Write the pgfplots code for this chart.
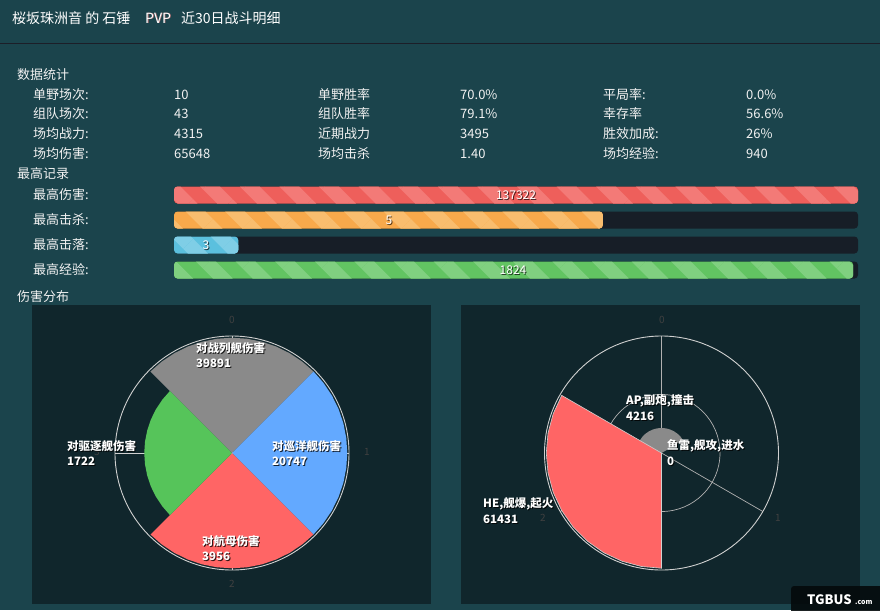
\documentclass[border=0pt]{standalone}
\usepackage{pgfplots}
\pgfplotsset{compat=1.18}
\usepgfplotslibrary{polar}
\usetikzlibrary{patterns.meta}
\usepackage{fontspec}
\setmainfont{Noto Sans CJK SC}
\definecolor{bg}{HTML}{1B444C}
\definecolor{hdrline}{HTML}{1C1E28}
\definecolor{panel}{HTML}{10262C}
\definecolor{bardark}{HTML}{171E27}
\definecolor{redbar}{HTML}{EE5F5B}
\definecolor{redstripe}{HTML}{F37A77}
\definecolor{orangebar}{HTML}{F8A94B}
\definecolor{orangestripe}{HTML}{F9BD6E}
\definecolor{bluebar}{HTML}{5BC0DE}
\definecolor{bluestripe}{HTML}{7FCEE6}
\definecolor{greenbar}{HTML}{62C462}
\definecolor{greenstripe}{HTML}{80D080}
\definecolor{piegray}{HTML}{8A8A8A}
\definecolor{pieblue}{HTML}{63A9FF}
\definecolor{piered}{HTML}{FF6565}
\definecolor{piegreen}{HTML}{56C45A}
\definecolor{circ}{HTML}{D0D0D0}
\definecolor{ticklab}{HTML}{404040}
\definecolor{txt}{HTML}{F2F2F2}
\newcommand{\mainfont}{\fontsize{13}{15}\selectfont}
\newcommand{\lblfont}{\fontsize{11.5}{13}\selectfont\bfseries}
\newcommand{\txt}[3]{\node[anchor=west, text=txt, font=\mainfont, inner sep=0pt] at (#1,-#2) {#3};}
\newcommand{\slabel}[3]{%
  \node[anchor=west, text=black, opacity=0.8, font=\lblfont, inner sep=0pt] at (#1+1,-#2-1) {#3};
  \node[anchor=west, text=white, font=\lblfont, inner sep=0pt] at (#1,-#2) {#3};}
\newcommand{\blabel}[3]{%
  \node[text=black, opacity=0.7, font=\fontsize{12}{14}\selectfont, inner sep=0pt] at (#1+1,-#2-1) {#3};
  \node[text=white, font=\fontsize{12}{14}\selectfont, inner sep=0pt] at (#1,-#2) {#3};}
\newcommand{\tlabel}[3]{\node[text=ticklab, font=\fontsize{10}{12}\selectfont, inner sep=0pt] at (#1,-#2) {#3};}
\begin{document}
\begin{tikzpicture}[x=1pt,y=1pt]
\useasboundingbox (0,0) rectangle (880,-610);
\fill[bg] (0,0) rectangle (880,-610);
\draw[hdrline, line width=1.6pt] (0,-43.5) -- (880,-43.5);
% title
\node[anchor=west, text=white, font=\fontsize{14}{16}\selectfont, inner sep=0pt] at (12,-18) {桜坂珠洲音 的 石锤};
\node[anchor=west, text=red!50, opacity=0.6, font=\fontsize{14}{16}\selectfont, inner sep=0pt] at (145.8,-18.6) {PVP};
\node[anchor=west, text=white, font=\fontsize{14}{16}\selectfont, inner sep=0pt] at (145,-18) {PVP};
\node[anchor=west, text=white, font=\fontsize{14}{16}\selectfont, inner sep=0pt] at (181,-18) {近30日战斗明细};
% sections
\txt{17}{75}{数据统计}
\txt{17}{174}{最高记录}
\txt{17}{297}{伤害分布}
% stats
\txt{33}{95}{单野场次:}  \txt{174}{95}{10}    \txt{318}{95}{单野胜率}  \txt{460}{95}{70.0\%} \txt{603}{95}{平局率:}   \txt{746}{95}{0.0\%}
\txt{33}{114}{组队场次:} \txt{174}{114}{43}   \txt{318}{114}{组队胜率} \txt{460}{114}{79.1\%} \txt{603}{114}{幸存率}   \txt{746}{114}{56.6\%}
\txt{33}{134}{场均战力:} \txt{174}{134}{4315} \txt{318}{134}{近期战力} \txt{460}{134}{3495}   \txt{603}{134}{胜效加成:} \txt{746}{134}{26\%}
\txt{33}{154}{场均伤害:} \txt{174}{154}{65648} \txt{318}{154}{场均击杀} \txt{460}{154}{1.40}  \txt{603}{154}{场均经验:} \txt{746}{154}{940}
% record labels
\txt{33}{195}{最高伤害:}
\txt{33}{220}{最高击杀:}
\txt{33}{245}{最高击落:}
\txt{33}{270}{最高经验:}
% record bars (fill fraction of the track)
\begin{axis}[at={(174pt,-182.5pt)}, anchor=north west, scale only axis,
  width=684pt, height=100pt, xmin=0, xmax=1, ymin=-0.5, ymax=3.5,
  y dir=reverse, hide axis, xbar, bar width=17pt, bar shift=0pt, clip=false]
\addplot[fill=bardark, draw=none, rounded corners=3.5pt] coordinates {(1,0) (1,1) (1,2) (1,3)};
\addplot[fill=redbar, draw=none, rounded corners=3.5pt,
  postaction={pattern={Lines[angle=-45,distance=28pt,line width=14pt]}, pattern color=redstripe}] coordinates {(1.0,0)};
\addplot[fill=orangebar, draw=none, rounded corners=3.5pt,
  postaction={pattern={Lines[angle=-45,distance=28pt,line width=14pt]}, pattern color=orangestripe}] coordinates {(0.627,1)};
\addplot[fill=bluebar, draw=none, rounded corners=3.5pt,
  postaction={pattern={Lines[angle=-45,distance=28pt,line width=14pt]}, pattern color=bluestripe}] coordinates {(0.094,2)};
\addplot[fill=greenbar, draw=none, rounded corners=3.5pt,
  postaction={pattern={Lines[angle=-45,distance=28pt,line width=14pt]}, pattern color=greenstripe}] coordinates {(0.993,3)};
\end{axis}
\blabel{516}{195}{137322}
\blabel{389}{220}{5}
\blabel{206}{245}{3}
\blabel{513}{270}{1824}
% panels
\fill[panel] (32,-305) rectangle (431,-604);
\fill[panel] (461,-305) rectangle (860,-604);
% left rose chart
\begin{polaraxis}[at={(232pt,-453pt)}, anchor=center, scale only axis,
  width=234pt, height=234pt, ymin=0, ymax=2296,
  xtick={0,90,180,270}, xticklabels={}, ytick=\empty, yticklabels={},
  scaled y ticks=false,
  xmajorgrids, grid style={draw=circ, line width=0.7pt},
  x axis line style={draw=circ, line width=0.9pt}, y axis line style={draw=none},
  major tick length=0pt, clip=false]
\addplot[fill=piegray, draw=none] coordinates {(0,0) (45,2262) (52.5,2262) (60,2262) (67.5,2262) (75,2262) (82.5,2262) (90,2262) (97.5,2262) (105,2262) (112.5,2262) (120,2262) (127.5,2262) (135,2262)} -- cycle;
\addplot[fill=pieblue, draw=none] coordinates {(0,0) (-45,2262) (-37.5,2262) (-30,2262) (-22.5,2262) (-15,2262) (-7.5,2262) (0,2262) (7.5,2262) (15,2262) (22.5,2262) (30,2262) (37.5,2262) (45,2262)} -- cycle;
\addplot[fill=piered, draw=none] coordinates {(0,0) (225,2262) (232.5,2262) (240,2262) (247.5,2262) (255,2262) (262.5,2262) (270,2262) (277.5,2262) (285,2262) (292.5,2262) (300,2262) (307.5,2262) (315,2262)} -- cycle;
\addplot[fill=piegreen, draw=none] coordinates {(0,0) (135,1722) (142.5,1722) (150,1722) (157.5,1722) (165,1722) (172.5,1722) (180,1722) (187.5,1722) (195,1722) (202.5,1722) (210,1722) (217.5,1722) (225,1722)} -- cycle;
\end{polaraxis}
\tlabel{232}{320}{0}
\tlabel{367}{452}{1}
\tlabel{232}{584}{2}
\tlabel{97}{452}{3}
\slabel{196}{348}{对战列舰伤害}
\slabel{196}{363}{39891}
\slabel{272}{446}{对巡洋舰伤害}
\slabel{272}{461}{20747}
\slabel{202}{541}{对航母伤害}
\slabel{202}{556}{3956}
\slabel{67}{446}{对驱逐舰伤害}
\slabel{67}{461}{1722}
% right rose chart
\begin{polaraxis}[at={(661.5pt,-453pt)}, anchor=center, scale only axis,
  width=234pt, height=234pt, ymin=0, ymax=19700,
  xtick={90,330,210}, xticklabels={}, ytick={9850}, yticklabels={},
  scaled y ticks=false,
  xmajorgrids, ymajorgrids, grid style={draw=circ!85!black, line width=0.7pt},
  x axis line style={draw=circ, line width=0.9pt}, y axis line style={draw=none},
  major tick length=0pt, clip=false]
\addplot[fill=piegray, draw=none] coordinates {(0,0) (30,4216) (40,4216) (50,4216) (60,4216) (70,4216) (80,4216) (90,4216) (100,4216) (110,4216) (120,4216) (130,4216) (140,4216) (150,4216)} -- cycle;
\addplot[fill=piered, draw=circ, line width=0.6pt] coordinates {(0,0) (150,19400) (160,19400) (170,19400) (180,19400) (190,19400) (200,19400) (210,19400) (220,19400) (230,19400) (240,19400) (250,19400) (260,19400) (270,19400)} -- cycle;
\end{polaraxis}
\tlabel{662}{320}{0}
\tlabel{778}{518}{1}
\tlabel{543}{518}{2}
\slabel{626}{401}{AP,副炮,撞击}
\slabel{626}{416}{4216}
\slabel{667}{446}{鱼雷,舰攻,进水}
\slabel{667}{461}{0}
\slabel{483}{504}{HE,舰爆,起火}
\slabel{483}{519}{61431}
% watermark
\fill[black!85!bg, rounded corners=3pt, opacity=0.9] (791,-586) rectangle (884,-614);
\node[text=white, font=\fontsize{13}{14}\selectfont\bfseries, inner sep=0pt, anchor=west] at (807,-600) {TGBUS};
\node[text=white, font=\fontsize{7}{8}\selectfont\bfseries, inner sep=0pt, anchor=west] at (855,-602) {.com};
\end{tikzpicture}
\end{document}
